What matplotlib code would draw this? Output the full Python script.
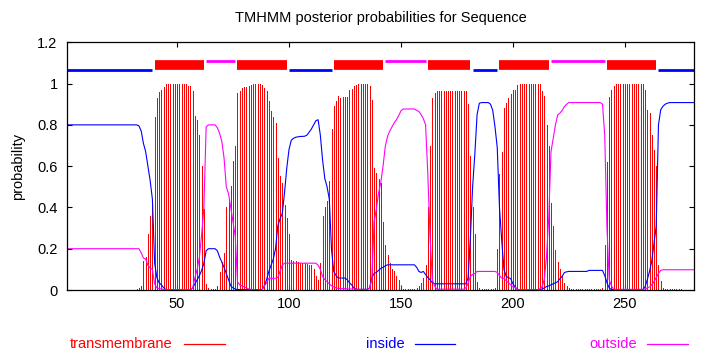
import matplotlib
matplotlib.use("Agg")
import matplotlib.pyplot as plt
from matplotlib.lines import Line2D
import numpy as np

plt.rcParams['font.family'] = ['Liberation Sans', 'DejaVu Sans']

# residues 1..281
residues = list(range(1, 282))

transmembrane = [
    0, 0, 0, 0, 0, 0, 0, 0, 0, 0,
    0, 0, 0, 0, 0, 0, 0, 0, 0, 0,
    0, 0, 0, 0, 0, 0, 0, 0, 0, 0,
    0, 0.005, 0.01, 0.02, 0.14, 0.16, 0.27, 0.36, 0.41, 0.84,
    0.93, 0.96, 0.97, 0.985, 0.998, 1.0, 1.0, 1.0, 1.0, 1.0,
    1.0, 1.0, 1.0, 1.0, 0.99, 0.99, 0.965, 0.845, 0.825, 0.75,
    0.60, 0.39, 0.03, 0.01, 0.005, 0.005, 0.005, 0.017, 0.087, 0.138,
    0.18, 0.40, 0.44, 0.506, 0.627, 0.70, 0.953, 0.966, 0.98, 0.983,
    0.985, 0.99, 0.995, 1.0, 1.0, 1.0, 1.0, 0.995, 0.98, 0.962,
    0.918, 0.865, 0.84, 0.81, 0.64, 0.55, 0.517, 0.41, 0.35, 0.27,
    0.147, 0.14, 0.14, 0.135, 0.13, 0.13, 0.13, 0.125, 0.12, 0.12,
    0.10, 0.07, 0.05, 0.13, 0.36, 0.40, 0.43, 0.53, 0.78, 0.89,
    0.918, 0.94, 0.93, 0.937, 0.937, 0.937, 0.97, 0.975, 0.99, 0.995,
    1.0, 1.0, 1.0, 1.0, 1.0, 0.99, 0.92, 0.59, 0.566, 0.54,
    0.52, 0.33, 0.22, 0.17, 0.13, 0.10, 0.09, 0.066, 0.05, 0.017,
    0.005, 0.003, 0.003, 0.003, 0.003, 0.005, 0.01, 0.02, 0.034, 0.06,
    0.12, 0.40, 0.70, 0.93, 0.955, 0.966, 0.966, 0.966, 0.966, 0.966,
    0.966, 0.966, 0.966, 0.966, 0.966, 0.966, 0.966, 0.966, 0.966, 0.90,
    0.65, 0.40, 0.27, 0.04, 0.01, 0.003, 0.003, 0.003, 0.003, 0.003,
    0.003, 0.01, 0.20, 0.56, 0.67, 0.88, 0.905, 0.93, 0.95, 0.97,
    0.97, 0.994, 1.0, 1.0, 1.0, 1.0, 1.0, 1.0, 1.0, 1.0,
    1.0, 1.0, 0.966, 0.94, 0.80, 0.70, 0.42, 0.31, 0.195, 0.134,
    0.10, 0.07, 0.033, 0.02, 0.008, 0.003, 0.003, 0.003, 0.003, 0.003,
    0.003, 0.003, 0.003, 0.003, 0.003, 0.003, 0.003, 0.003, 0.003, 0.01,
    0.22, 0.62, 0.937, 0.97, 0.99, 1.0, 1.0, 1.0, 1.0, 1.0,
    1.0, 1.0, 1.0, 1.0, 1.0, 1.0, 1.0, 1.0, 0.97, 0.873,
    0.856, 0.75, 0.68, 0.60, 0.12, 0.046, 0.01, 0.003, 0.003, 0.003,
    0.003, 0.003, 0.003, 0.003, 0.003, 0, 0, 0, 0, 0, 0,
]

inside = [
    0.80, 0.80, 0.80, 0.80, 0.80, 0.80, 0.80, 0.80, 0.80, 0.80,
    0.80, 0.80, 0.80, 0.80, 0.80, 0.80, 0.80, 0.80, 0.80, 0.80,
    0.80, 0.80, 0.80, 0.80, 0.80, 0.80, 0.80, 0.80, 0.80, 0.80,
    0.80, 0.80, 0.795, 0.77, 0.71, 0.67, 0.60, 0.53, 0.44, 0.13,
    0.06, 0.035, 0.025, 0.012, 0.002, 0.002, 0.002, 0.002, 0.002, 0.002,
    0.002, 0.002, 0.002, 0.002, 0.002, 0.002, 0.01, 0.03, 0.05, 0.07,
    0.095, 0.13, 0.19, 0.20, 0.20, 0.20, 0.20, 0.19, 0.16, 0.135,
    0.11, 0.08, 0.05, 0.02, 0.01, 0.005, 0.002, 0.002, 0.002, 0.002,
    0.002, 0.002, 0.002, 0.002, 0.002, 0.002, 0.002, 0.002, 0.02, 0.05,
    0.09, 0.12, 0.15, 0.20, 0.31, 0.345, 0.37, 0.47, 0.59, 0.68,
    0.725, 0.735, 0.74, 0.742, 0.744, 0.744, 0.745, 0.75, 0.765, 0.78,
    0.80, 0.82, 0.825, 0.75, 0.63, 0.54, 0.50, 0.44, 0.195, 0.09,
    0.07, 0.058, 0.058, 0.058, 0.058, 0.05, 0.035, 0.025, 0.01, 0.003,
    0.003, 0.003, 0.003, 0.003, 0.003, 0.01, 0.06, 0.08, 0.085, 0.095,
    0.105, 0.11, 0.117, 0.122, 0.122, 0.122, 0.122, 0.122, 0.122, 0.122,
    0.122, 0.122, 0.122, 0.122, 0.122, 0.122, 0.11, 0.09, 0.085, 0.09,
    0.075, 0.06, 0.05, 0.035, 0.03, 0.03, 0.03, 0.03, 0.03, 0.03,
    0.03, 0.03, 0.03, 0.03, 0.03, 0.03, 0.03, 0.03, 0.03, 0.06,
    0.25, 0.50, 0.66, 0.85, 0.905, 0.908, 0.908, 0.908, 0.908, 0.90,
    0.87, 0.79, 0.69, 0.40, 0.24, 0.10, 0.066, 0.06, 0.055, 0.03,
    0.015, 0.002, 0.002, 0.002, 0.002, 0.002, 0.002, 0.002, 0.002, 0.002,
    0.002, 0.002, 0.005, 0.01, 0.017, 0.02, 0.025, 0.03, 0.035, 0.04,
    0.055, 0.066, 0.085, 0.088, 0.09, 0.09, 0.09, 0.09, 0.09, 0.09,
    0.09, 0.09, 0.09, 0.095, 0.095, 0.095, 0.095, 0.095, 0.095, 0.095,
    0.07, 0.035, 0.01, 0.002, 0.002, 0.002, 0.002, 0.002, 0.002, 0.002,
    0.002, 0.002, 0.002, 0.002, 0.002, 0.002, 0.002, 0.002, 0.015, 0.05,
    0.09, 0.14, 0.227, 0.31, 0.80, 0.873, 0.89, 0.90, 0.905, 0.908,
    0.908, 0.908, 0.908, 0.908, 0.908, 0.908, 0.908, 0.908, 0.908, 0.908, 0.908,
]

outside = [
    0.20, 0.20, 0.20, 0.20, 0.20, 0.20, 0.20, 0.20, 0.20, 0.20,
    0.20, 0.20, 0.20, 0.20, 0.20, 0.20, 0.20, 0.20, 0.20, 0.20,
    0.20, 0.20, 0.20, 0.20, 0.20, 0.20, 0.20, 0.20, 0.20, 0.20,
    0.20, 0.20, 0.20, 0.18, 0.155, 0.15, 0.12, 0.106, 0.10, 0.03,
    0.01, 0.007, 0.005, 0.003, 0.002, 0.002, 0.002, 0.002, 0.002, 0.002,
    0.002, 0.002, 0.002, 0.002, 0.002, 0.002, 0.01, 0.06, 0.10, 0.16,
    0.27, 0.40, 0.79, 0.80, 0.80, 0.80, 0.80, 0.786, 0.76, 0.72,
    0.64, 0.50, 0.466, 0.40, 0.33, 0.26, 0.04, 0.025, 0.02, 0.015,
    0.01, 0.005, 0.003, 0.001, 0.001, 0.001, 0.001, 0.001, 0.02, 0.035,
    0.057, 0.057, 0.056, 0.057, 0.06, 0.09, 0.12, 0.13, 0.13, 0.13,
    0.13, 0.13, 0.13, 0.13, 0.13, 0.13, 0.13, 0.13, 0.13, 0.13,
    0.13, 0.13, 0.12, 0.10, 0.066, 0.05, 0.04, 0.03, 0.02, 0.015,
    0.01, 0.008, 0.007, 0.007, 0.007, 0.005, 0.005, 0.005, 0.005, 0.003,
    0.003, 0.003, 0.003, 0.003, 0.003, 0.01, 0.05, 0.33, 0.39, 0.47,
    0.52, 0.60, 0.695, 0.744, 0.77, 0.79, 0.81, 0.825, 0.845, 0.868,
    0.877, 0.877, 0.877, 0.877, 0.877, 0.877, 0.87, 0.865, 0.85, 0.83,
    0.80, 0.56, 0.26, 0.05, 0.02, 0.004, 0.004, 0.004, 0.004, 0.004,
    0.004, 0.004, 0.004, 0.004, 0.004, 0.004, 0.004, 0.004, 0.01, 0.034,
    0.066, 0.075, 0.08, 0.09, 0.09, 0.09, 0.09, 0.09, 0.09, 0.09,
    0.09, 0.09, 0.085, 0.07, 0.058, 0.056, 0.045, 0.035, 0.025, 0.015,
    0.012, 0.002, 0.002, 0.002, 0.002, 0.002, 0.002, 0.002, 0.002, 0.002,
    0.002, 0.005, 0.015, 0.05, 0.16, 0.35, 0.67, 0.735, 0.80, 0.848,
    0.857, 0.87, 0.889, 0.90, 0.908, 0.908, 0.908, 0.908, 0.908, 0.908,
    0.908, 0.908, 0.908, 0.908, 0.908, 0.908, 0.908, 0.908, 0.908, 0.90,
    0.75, 0.30, 0.05, 0.02, 0.003, 0.003, 0.003, 0.003, 0.003, 0.003,
    0.003, 0.003, 0.003, 0.003, 0.003, 0.003, 0.003, 0.003, 0.005, 0.01,
    0.015, 0.025, 0.04, 0.06, 0.08, 0.095, 0.098, 0.098, 0.098, 0.098,
    0.098, 0.098, 0.098, 0.098, 0.098, 0.098, 0.098, 0.098, 0.098, 0.098, 0.098,
]

# predicted topology segments (start, end)
inside_segments = [(1, 39), (100, 119), (182, 193), (265, 281)]
tm_segments = [(40, 62), (77, 99), (120, 142), (162, 181), (194, 216), (242, 264)]
outside_segments = [(63, 76), (143, 161), (217, 241)]

x_ticks = [50, 100, 150, 200, 250]
y_ticks = [0, 0.2, 0.4, 0.6, 0.8, 1.0, 1.2]
y_tick_labels = ["0", "0.2", "0.4", "0.6", "0.8", "1", "1.2"]

W, H = 710, 350
fig = plt.figure(figsize=(W / 100, H / 100), dpi=100)
L, R, T, B = 67.3, 694.3, 42.3, 290.0
ax = fig.add_axes([L / W, 1 - B / H, (R - L) / W, (B - T) / H])

FS = 10.5
RED, BLUE, MAG = '#ff0000', '#0000ff', '#ff00ff'

ax.vlines(residues, 0, transmembrane, colors=RED, linewidth=0.6, antialiased=False)
ax.plot(residues, inside, color=BLUE, linewidth=0.8)
ax.plot(residues, outside, color=MAG, linewidth=0.8)

# topology bars on top
ax.hlines([1.067] * len(inside_segments), [s for s, e in inside_segments],
          [e for s, e in inside_segments], colors=BLUE, linewidth=2.0, capstyle='butt')
ax.hlines([1.110] * len(outside_segments), [s for s, e in outside_segments],
          [e for s, e in outside_segments], colors=MAG, linewidth=2.0, capstyle='butt')
ax.hlines([1.088] * len(tm_segments), [s for s, e in tm_segments],
          [e for s, e in tm_segments], colors=RED, linewidth=7.0, capstyle='butt')

ax.set_xlim(1, 281)
ax.set_ylim(0, 1.2)
ax.set_xticks(x_ticks)
ax.set_xticklabels([str(t) for t in x_ticks])
ax.set_yticks(y_ticks)
ax.set_yticklabels(y_tick_labels)
ax.tick_params(axis='both', direction='in', length=3.5, width=0.8,
               top=True, right=True, labelsize=FS, colors='black')
ax.tick_params(axis='x', pad=5)
ax.tick_params(axis='y', pad=7)
for sp in ax.spines.values():
    sp.set_linewidth(0.9)

fig.text(380.8 / W, 1 - 18 / H, "TMHMM posterior probabilities for Sequence",
         ha='center', va='center', fontsize=FS)
fig.text(18 / W, 1 - 166 / H, "probability", rotation=90,
         ha='center', va='center', fontsize=FS)

# legend below
ly = 1 - 344 / H
legend_items = [("transmembrane", RED, 70, 184, 225),
                ("inside", BLUE, 366, 415, 455),
                ("outside", MAG, 589, 647, 688)]
for label, col, tx, lx0, lx1 in legend_items:
    fig.text(tx / W, ly, label, color=col, ha='left', va='center', fontsize=FS)
    fig.add_artist(Line2D([lx0 / W, lx1 / W], [ly, ly], color=col, linewidth=0.9))

fig.savefig("out.png", dpi=100)
